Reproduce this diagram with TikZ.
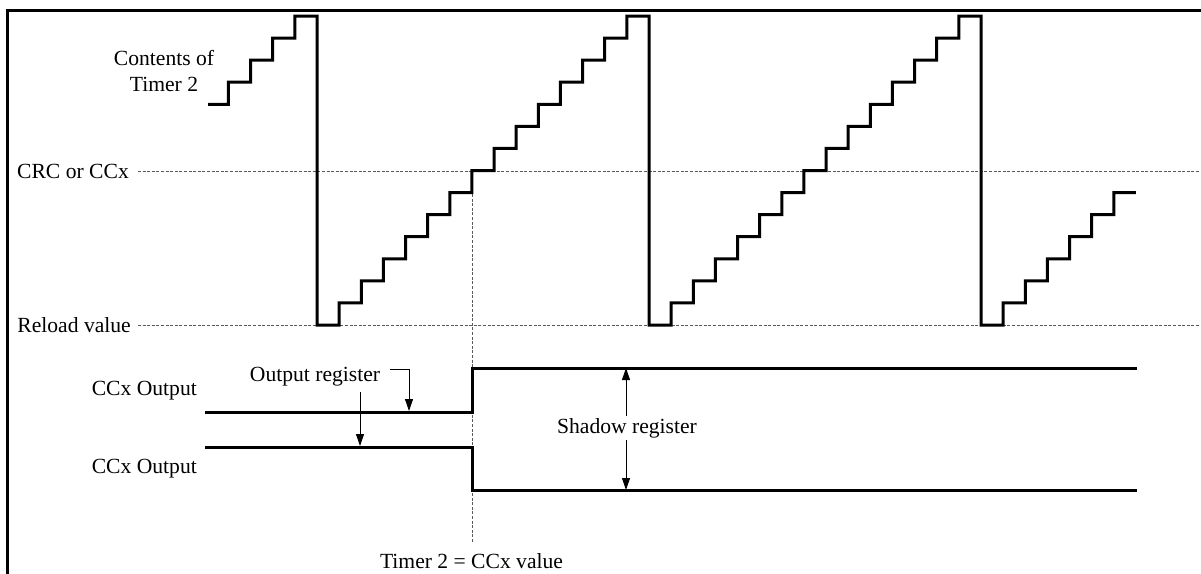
\documentclass[tikz,border=0pt]{standalone}
\usepackage{fontspec}
\setmainfont{Liberation Serif}
\usetikzlibrary{arrows.meta}
\begin{document}
\begin{tikzpicture}[x=1pt,y=-1pt,
  lbl/.style={font=\fontsize{21.6}{26}\selectfont, inner sep=0pt},
  sig/.style={line width=3pt, line join=miter, line cap=butt},
  guide/.style={black!65, line width=0.9pt, dash pattern=on 3pt off 1.6pt},
  arr/.style={line width=0.9pt, -{Triangle[length=12pt,width=8pt]}},
  frame/.style={line width=3pt}]
\useasboundingbox (0,0) rectangle (1201,573);
\pgfmathsetmacro{\s}{332/15}
\pgfmathsetmacro{\h}{309/14}
% frame
\draw[frame] (7,575) -- (7,10) -- (1203,10);
% guide lines
\coordinate (crcL) at (138,171);
\coordinate (crcR) at (1201,171);
\coordinate (relL) at (138,325);
\coordinate (relR) at (1201,325);
\coordinate (vT) at (472,171);
\coordinate (vB) at (472,542);
\draw[guide] (crcL) -- (crcR);
\draw[guide] (relL) -- (relR);
\draw[guide] (vT) -- (vB);
% timer contents staircase
\draw[sig] (208,{325-10*\h}) -- ({317-4*\s},{325-10*\h})
  \foreach \i in {1,...,4} { -- ++(0,-\h) -- ++(\s,0) }
  -- (317,325) -- ++(\s,0)
  \foreach \i in {1,...,14} { -- ++(0,-\h) -- ++(\s,0) }
  -- (649,325) -- ++(\s,0)
  \foreach \i in {1,...,14} { -- ++(0,-\h) -- ++(\s,0) }
  -- (981,325) -- ++(\s,0)
  \foreach \i in {1,...,6} { -- ++(0,-\h) -- ++(\s,0) };
% outputs
\coordinate (hi) at (626,368);
\coordinate (lo) at (626,490);
\draw[sig] (205,412) -- (472,412) -- (472,368) -- (1137,368);
\draw[sig] (205,447) -- (472,447) -- (472,490) -- (1137,490);
% labels
\node[lbl, align=center] (cont) at (164,70.5) {Contents of\\Timer 2};
\node[lbl, anchor=base east] (crc) at (129,178) {CRC or CCx};
\node[lbl, anchor=base east] (rel) at (131,332) {Reload value};
\node[lbl, anchor=base east] (o1) at (197,395) {CCx Output};
\node[lbl, anchor=base east] (o2) at (197,473) {CCx Output};
\node[lbl, anchor=base] (t2) at (471.5,568) {Timer 2 = CCx value};
\node[lbl, anchor=base] (oreg) at (315,381.5) {Output register};
\node[lbl, anchor=base, inner ysep=2pt] (sh) at (627,433) {Shadow register};
% output register arrows
\coordinate (b1) at (390,369);
\coordinate (b2) at (409,369);
\coordinate (b3) at (409,411);
\coordinate (a1) at (360,392);
\coordinate (a2) at (360,446);
\draw[arr] (b1) -- (b2) -- (b3);
\draw[arr] (a1) -- (a2);
% shadow register arrows
\draw[arr] (sh.north -| hi) -- (hi);
\draw[arr] (sh.south -| lo) -- (lo);
\end{tikzpicture}
\end{document}
